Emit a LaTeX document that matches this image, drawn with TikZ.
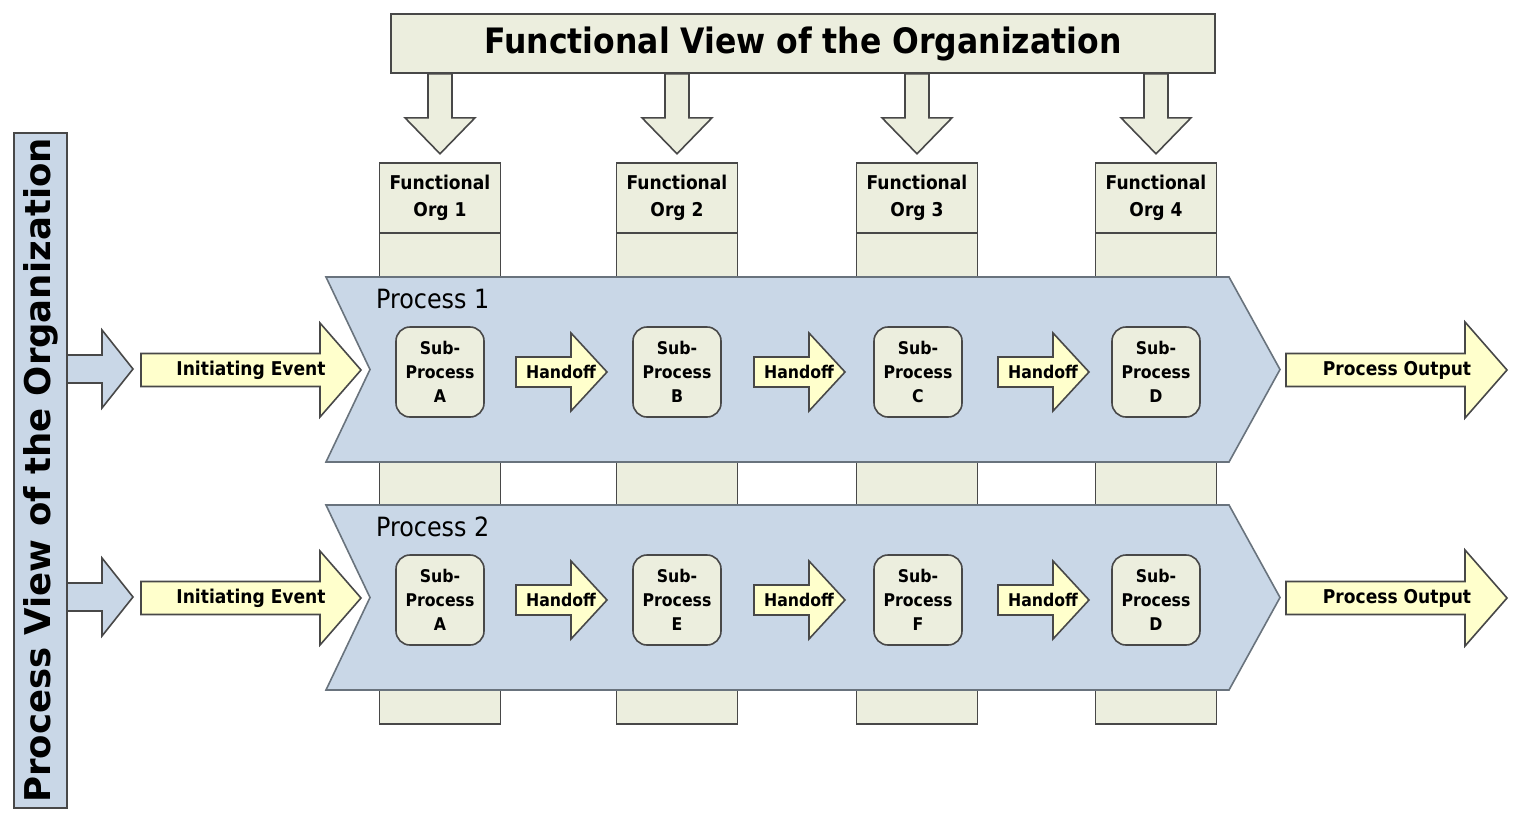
\documentclass[tikz,border=0pt]{standalone}
\usepackage{fontspec}
\usepackage{tikz}
\newfontfamily\condfont{DejaVu Sans Condensed}
\newfontfamily\widefont{DejaVu Sans}

\definecolor{procblue}{RGB}{201,215,231}
\definecolor{orgbeige}{RGB}{236,238,222}
\definecolor{eventyellow}{RGB}{255,255,204}
\definecolor{edgegray}{RGB}{72,72,72}
\definecolor{chevgray}{RGB}{105,115,125}

\tikzset{
  edged/.style={draw=edgegray,line width=1.6pt,line join=miter},
  colbox/.style={edged,fill=orgbeige},
  bluearrow/.style={edged,fill=procblue},
  yellowarrow/.style={edged,fill=eventyellow},
  chevron/.style={draw=chevgray,line width=1.6pt,fill=procblue},
  titlebox/.style={colbox,minimum width=824pt,minimum height=59pt,inner sep=0pt,
    font=\condfont\bfseries\fontsize{35}{40}\selectfont},
  orgbox/.style={colbox,minimum width=121pt,minimum height=70pt,inner sep=0pt,align=center,
    font=\condfont\bfseries\fontsize{19}{27}\selectfont},
  subproc/.style={colbox,rounded corners=14pt,minimum width=88pt,minimum height=90pt,inner sep=0pt,
    align=center,font=\condfont\bfseries\fontsize{17.5}{24}\selectfont},
  viewbar/.style={bluearrow,minimum width=675pt,minimum height=53pt,inner sep=0pt,
    font=\widefont\bfseries\fontsize{35.5}{40}\selectfont},
  arrowtext/.style={inner sep=0pt,font=\condfont\bfseries\fontsize{19}{22}\selectfont},
  handtext/.style={inner sep=0pt,font=\condfont\bfseries\fontsize{17.5}{20}\selectfont},
  proctext/.style={inner sep=0pt,anchor=base west,font=\condfont\fontsize{26.5}{30}\selectfont}
}

% block arrow: style, start, shaft length, head length, shaft half width, head half width
\newcommand{\blockarrow}[6]{%
  \filldraw[#1] #2 ++(0,-#5) -- ++(#3,0) -- ++(0,#5-#6) -- ++(#4,#6) -- ++(-#4,#6)
    -- ++(0,#5-#6) -- ++(-#3,0) -- cycle;}

\begin{document}
\begin{tikzpicture}[x=1pt,y=-1pt]
  \useasboundingbox (0,0) rectangle (1517,825);

  % functional view
  \node[titlebox] (title) at (803,43.5) {Functional View of the Organization};
  \foreach \n/\x in {1/440,2/677,3/917,4/1156} {
    \filldraw[colbox] (\x-60.5,163) rectangle (\x+60.5,724);
    \node[orgbox] (org\n) at (\x,198) {Functional\\Org \n};
    \filldraw[colbox] (title.south -| org\n.north) ++(-12,0) -- ++(24,0) -- ++(0,44)
      -- ++(23,0) -- ++(-35,36) -- ++(-35,-36) -- ++(23,0) -- cycle;
  }

  % process view
  \node[viewbar,rotate=90] (pview) at (40.5,470.5) {Process View of the Organization};

  \foreach \r/\y/\sa/\sb/\sc/\sd in {1/372/A/B/C/D,2/600/A/E/F/D} {
    \filldraw[chevron] (326,\y-95) -- (1229,\y-95) -- (1280,\y-2.5) -- (1229,\y+90)
      -- (326,\y+90) -- (370,\y-2.5) -- cycle;
    \node[proctext] (proc\r) at (376,\y-64) {Process \r};

    \blockarrow{bluearrow}{(67,\y-3)}{35}{31}{14}{39}
    \blockarrow{yellowarrow}{(141,\y-2)}{179}{41}{16.5}{47}
    \node[arrowtext] (event\r) at (251,\y-2) {Initiating Event};
    \blockarrow{yellowarrow}{(1286,\y-2)}{179}{42}{16.5}{48}
    \node[arrowtext] (output\r) at (1397,\y-2) {Process Output};

    \node[subproc] (sp\r a) at (440,\y) {Sub-\\Process\\\sa};
    \node[subproc] (sp\r b) at (677,\y) {Sub-\\Process\\\sb};
    \node[subproc] (sp\r c) at (918,\y) {Sub-\\Process\\\sc};
    \node[subproc] (sp\r d) at (1156,\y) {Sub-\\Process\\\sd};

    \foreach \m/\hx in {1/516,2/754,3/998} {
      \blockarrow{yellowarrow}{(\hx,\y)}{55}{36}{15}{39}
      \node[handtext] (hand\r\m) at (\hx+45,\y) {Handoff};
    }
  }
\end{tikzpicture}
\end{document}
